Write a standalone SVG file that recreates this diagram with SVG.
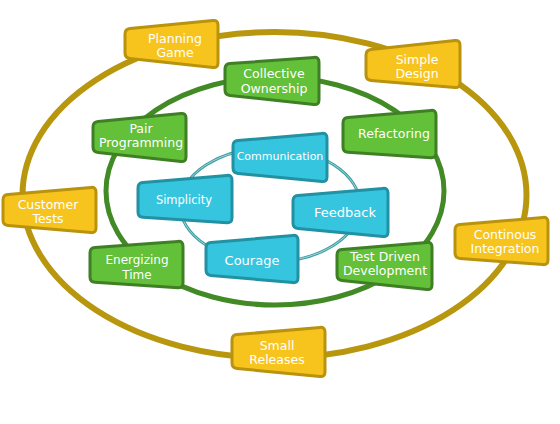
<svg xmlns="http://www.w3.org/2000/svg" width="560" height="424" viewBox="0 0 560 424">
<style>
.y{fill:#F7C41E;stroke:#B9930D;stroke-width:3}
.g{fill:#63C039;stroke:#3F7F25;stroke-width:3}
.b{fill:#36C5DF;stroke:#2191A3;stroke-width:3}
text{fill:#fff;font-family:"DejaVu Sans","Liberation Sans",sans-serif;font-size:12.5px;text-anchor:middle}
</style>
<rect width="560" height="424" fill="#fff"/>
<g id="connectors" fill="none">
<ellipse cx="274.5" cy="195" rx="252" ry="163" stroke="#B8960E" stroke-width="6"/>
<ellipse cx="275" cy="191" rx="169" ry="114" stroke="#428A26" stroke-width="5"/>
<ellipse cx="270" cy="205" rx="90" ry="57" stroke="#3F9EA3" stroke-width="3"/>
<ellipse cx="270" cy="205" rx="90" ry="57" stroke="#9fd6d6" stroke-width="1"/>
</g>
<g id="planning-game"><path class="y" d="M125,34 Q125,29 130,28.5 L213,20.5 Q218,20 218,25 L218,63 Q218,68 213,67.5 L130,58.5 Q125,58 125,53 Z"/><text x="175" y="43">Planning</text><text x="175" y="57">Game</text></g>
<g id="simple-design"><path class="y" d="M366,55 Q366,50 371,49.5 L455,40.5 Q460,40 460,45 L460,83 Q460,88 455,87.5 L371,80.5 Q366,80 366,75 Z"/><text x="417" y="64">Simple</text><text x="417" y="78">Design</text></g>
<g id="collective-ownership"><path class="g" d="M225,69 Q225,64 230,63.6 L314,57.4 Q319,57 319,62 L319,100 Q319,105 314,104.5 L230,95.5 Q225,95 225,90 Z"/><text x="274" y="78">Collective</text><text x="274" y="93">Ownership</text></g>
<g id="pair-programming"><path class="g" d="M93,127 Q93,122 98,121.5 L181,113.5 Q186,113 186,118 L186,157 Q186,162 181,161.5 L98,152.5 Q93,152 93,147 Z"/><text x="141" y="133">Pair</text><text x="141" y="147">Programming</text></g>
<g id="refactoring"><path class="g" d="M343,123 Q343,118 348,117.6 L431,110.4 Q436,110 436,115 L436,153 Q436,158 431,157.7 L348,152.3 Q343,152 343,147 Z"/><text x="394" y="138">Refactoring</text></g>
<g id="customer-tests"><path class="y" d="M3,200 Q3,195 8,194.6 L91,187.4 Q96,187 96,192 L96,228 Q96,233 91,232.6 L8,225.4 Q3,225 3,220 Z"/><text x="48" y="209">Customer</text><text x="48" y="223">Tests</text></g>
<g id="energizing-time"><path class="g" d="M90,253 Q90,248 95,247.6 L178,241.4 Q183,241 183,246 L183,283 Q183,288 178,287.7 L95,282.3 Q90,282 90,277 Z"/><text x="137" y="264" style="font-size:12px">Energizing</text><text x="137" y="279" style="font-size:12px">Time</text></g>
<g id="small-releases"><path class="y" d="M232,340 Q232,335 237,334.6 L320,327.4 Q325,327 325,332 L325,372 Q325,377 320,376.5 L237,368.5 Q232,368 232,363 Z"/><text x="277" y="350">Small</text><text x="277" y="364">Releases</text></g>
<g id="test-driven-development"><path class="g" d="M337,255 Q337,250 342,249.6 L427,242.4 Q432,242 432,247 L432,285 Q432,290 427,289.5 L342,280.5 Q337,280 337,275 Z"/><text x="385" y="261">Test Driven</text><text x="385" y="275">Development</text></g>
<g id="continous-integration"><path class="y" d="M455,230 Q455,225 460,224.6 L543,217.4 Q548,217 548,222 L548,260 Q548,265 543,264.6 L460,258.4 Q455,258 455,253 Z"/><text x="505" y="239">Continous</text><text x="505" y="253">Integration</text></g>
<g id="communication"><path class="b" d="M233,146 Q233,141 238,140.6 L322,133.4 Q327,133 327,138 L327,177 Q327,182 322,181.5 L238,173.5 Q233,173 233,168 Z"/><text x="280" y="160" style="font-size:11px">Communication</text></g>
<g id="simplicity"><path class="b" d="M138,188 Q138,183 143,182.6 L227,175.4 Q232,175 232,180 L232,218 Q232,223 227,222.7 L143,217.3 Q138,217 138,212 Z"/><text x="184" y="204" style="font-size:11.5px">Simplicity</text></g>
<g id="feedback"><path class="b" d="M293,201 Q293,196 298,195.6 L383,188.4 Q388,188 388,193 L388,232 Q388,237 383,236.5 L298,228.5 Q293,228 293,223 Z"/><text x="345" y="217" style="font-size:13px">Feedback</text></g>
<g id="courage"><path class="b" d="M206,248 Q206,243 211,242.6 L293,235.4 Q298,235 298,240 L298,278 Q298,283 293,282.6 L211,275.4 Q206,275 206,270 Z"/><text x="252" y="265" style="font-size:13px">Courage</text></g>
</svg>
